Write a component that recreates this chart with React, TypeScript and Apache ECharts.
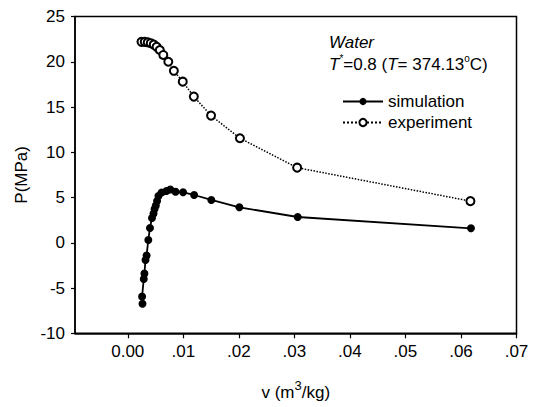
import React, { useEffect, useRef } from 'react';
import * as echarts from 'echarts';

// simulation: specific volume (m3/kg) and pressure (MPa)
const simV = [0.00265, 0.00258, 0.00288, 0.0030, 0.00319, 0.00339, 0.0037, 0.0040, 0.00436, 0.00463, 0.00483, 0.00505, 0.00528, 0.00553, 0.00607, 0.00697, 0.00766, 0.00861, 0.00996, 0.01195, 0.01505, 0.0201, 0.0306, 0.0618];
const simP = [-6.74, -5.93, -4.0, -3.39, -1.9, -1.4, 0.31, 1.64, 2.74, 3.24, 3.73, 4.12, 4.62, 5.17, 5.54, 5.72, 5.89, 5.64, 5.58, 5.28, 4.73, 3.92, 2.85, 1.6];

// experiment
const expV = [0.00247, 0.00306, 0.0036, 0.00414, 0.00468, 0.0052, 0.00577, 0.0064, 0.0073, 0.0083, 0.0099, 0.0119, 0.0150, 0.0202, 0.0305, 0.0617];
const expP = [22.2, 22.2, 22.15, 22.05, 21.9, 21.65, 21.3, 20.75, 20.0, 19.0, 17.8, 16.15, 14.05, 11.55, 8.3, 4.6];

const xTickValues = [0, 0.01, 0.02, 0.03, 0.04, 0.05, 0.06, 0.07];
const xLabelText = ['0.00', '.01', '.02', '.03', '.04', '.05', '.06', '.07'];
const seriesNames = ['simulation', 'experiment'];

const FONT = 'Liberation Sans, Arial, Helvetica, sans-serif';
const INK = '#000';

export default function App() {
  const ref = useRef<HTMLDivElement>(null);
  useEffect(() => {
    if (!ref.current) return;
    const chart = echarts.init(ref.current, null, { renderer: 'svg' });
    const simData = simV.map((v, i) => [v, simP[i]]);
    const expData = expV.map((v, i) => [v, expP[i]]);
    chart.setOption({
      animation: false,
      backgroundColor: '#fff',
      textStyle: { fontFamily: FONT, color: INK },
      grid: {
        left: 75, right: 17.5, top: 16.5, bottom: 73.7,
        show: true, borderColor: INK, borderWidth: 1.5, backgroundColor: 'transparent',
      },
      xAxis: {
        type: 'value',
        min: -0.0095,
        max: 0.07,
        splitLine: { show: false },
        axisLine: { show: true, onZero: false, lineStyle: { color: INK, width: 1.5 } },
        axisTick: { show: true, inside: false, length: 5, customValues: xTickValues, lineStyle: { color: INK, width: 1.2 } },
        axisLabel: {
          customValues: xTickValues,
          margin: 10,
          fontSize: 17,
          fontFamily: FONT,
          color: INK,
          formatter: (v: number) => {
            const idx = xTickValues.findIndex((t) => Math.abs(t - v) < 1e-9);
            return idx >= 0 ? xLabelText[idx] : '';
          },
        },
        name: '{a|v (m}{sup|3}{a|/kg)}',
        nameLocation: 'middle',
        nameGap: 46,
        nameTextStyle: {
          rich: {
            a: { fontSize: 17, fontFamily: FONT, color: INK, lineHeight: 22, verticalAlign: 'bottom' },
            sup: { fontSize: 13, fontFamily: FONT, color: INK, lineHeight: 22, verticalAlign: 'top' },
          },
        },
      },
      yAxis: {
        type: 'value',
        min: -10,
        max: 25,
        interval: 5,
        splitLine: { show: false },
        axisLine: { show: true, onZero: false, lineStyle: { color: INK, width: 1.5 } },
        axisTick: { show: true, inside: false, length: 4, lineStyle: { color: INK, width: 1.2 } },
        axisLabel: { margin: 10, fontSize: 17, fontFamily: FONT, color: INK },
        name: 'P(MPa)',
        nameLocation: 'middle',
        nameGap: 45,
        nameTextStyle: { fontSize: 17, fontFamily: FONT, color: INK },
      },
      legend: {
        orient: 'vertical',
        left: 337,
        top: 88,
        itemWidth: 40,
        itemHeight: 9,
        itemGap: 4,
        data: seriesNames,
        textStyle: { fontSize: 17, fontFamily: FONT, color: INK, lineHeight: 17 },
      },
      graphic: [
        {
          type: 'text',
          left: 329,
          top: 34,
          style: { text: 'Water', font: `italic 17px ${FONT}`, fill: INK },
        },
        {
          type: 'text',
          left: 329,
          top: 53,
          style: {
            text: '{i|T}{s|*}{n|=0.8 (}{i|T}{n|= 374.13}{s|o}{n|C)}',
            rich: {
              i: { fontStyle: 'italic', fontSize: 17, fontFamily: FONT, fill: INK, lineHeight: 20, verticalAlign: 'bottom' },
              n: { fontSize: 17, fontFamily: FONT, fill: INK, lineHeight: 20, verticalAlign: 'bottom' },
              s: { fontSize: 10, fontFamily: FONT, fill: INK, lineHeight: 20, verticalAlign: 'top' },
            },
          },
        },
      ],
      series: [
        {
          name: seriesNames[0],
          type: 'line',
          data: simData,
          symbol: 'circle',
          symbolSize: 8,
          itemStyle: { color: INK },
          lineStyle: { color: INK, width: 1.8 },
          z: 3,
        },
        {
          name: seriesNames[1],
          type: 'line',
          data: expData,
          symbol: 'circle',
          symbolSize: 8,
          itemStyle: { color: '#fff', borderColor: INK, borderWidth: 2 },
          lineStyle: { color: INK, width: 1.5, type: 'dotted' },
          z: 2,
        },
      ],
    });
    return () => chart.dispose();
  }, []);
  return <div ref={ref} style={{ position: 'absolute', left: 0, top: 0, width: 534, height: 407 }} />;
}
